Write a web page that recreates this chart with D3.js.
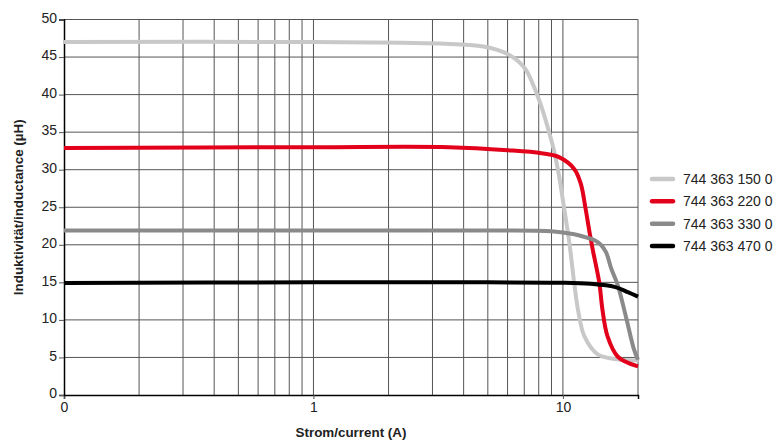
<!DOCTYPE html>
<html>
<head>
<meta charset="utf-8">
<script src="https://cdn.jsdelivr.net/npm/d3@7"></script>
<style>
  html, body { margin: 0; padding: 0; background: #fff; }
  svg { display: block; }
  text { font-family: "Liberation Sans", Arial, Helvetica, sans-serif; fill: #222; }
</style>
</head>
<body>
<svg id="chart" width="776" height="441"></svg>
<script>
// ---- data ----
const seriesNames = ["744 363 150 0", "744 363 220 0", "744 363 330 0", "744 363 470 0"];
const seriesColors = ["#c8c8c8", "#e2001a", "#8a8a8a", "#000000"];

const current150 = [0.1, 1, 3.2, 4.8, 6.0, 7.0, 7.6, 8.2, 8.7, 9.2, 9.6, 10.1, 10.6, 11.1, 11.5, 12.2, 13.8, 16.1, 20];
const induct150  = [47.0, 47.0, 46.8, 46.4, 45.4, 43.6, 41.3, 38.4, 35.6, 32.6, 29.6, 25.0, 20.4, 14.9, 11.3, 7.8, 5.4, 4.8, 4.6];

const current220 = [0.1, 1, 3.5, 6.0, 8.2, 9.6, 11.1, 11.8, 12.3, 12.8, 13.2, 14.0, 14.4, 15.1, 16.6, 20];
const induct220  = [32.9, 33.0, 33.0, 32.6, 32.2, 31.7, 30.1, 28.1, 25.0, 21.6, 19.2, 14.9, 11.4, 7.8, 5.1, 3.8];

const current330 = [0.1, 1, 5, 9, 11.1, 12.2, 13.4, 14.2, 14.9, 15.6, 16.6, 17.9, 19.3, 20];
const induct330  = [21.9, 21.9, 21.9, 21.8, 21.4, 21.05, 20.6, 20.0, 19.0, 16.9, 14.6, 10.4, 6.0, 4.7];

const current470 = [0.1, 1, 5, 10, 12.9, 16.1, 18.2, 20];
const induct470  = [14.9, 15.0, 15.0, 14.95, 14.8, 14.4, 13.7, 13.1];

const xTickValues = [0.1, 1, 10];
const xTickLabels = ["0", "1", "10"];
const xGridValues = [0.2, 0.3, 0.4, 0.5, 0.6, 0.7, 0.8, 0.9, 1, 2, 3, 4, 5, 6, 7, 8, 9, 10, 20];
const yTickValues = [0, 5, 10, 15, 20, 25, 30, 35, 40, 45, 50];

const xTitle = "Strom/current (A)";
const yTitle = "Induktivität/inductance (µH)";

// ---- chart ----
const svg = d3.select("#chart");
const x = d3.scaleLog().domain([0.1, 20]).range([64, 638]);
const y = d3.scaleLinear().domain([0, 50]).range([395, 19.5]);

const grid = svg.append("g");
grid.selectAll("line.h").data(yTickValues.filter(v => v > 0)).join("line")
  .attr("x1", x(0.1)).attr("x2", x(20))
  .attr("y1", d => y(d)).attr("y2", d => y(d))
  .attr("stroke", "#555").attr("stroke-width", 1);
grid.selectAll("line.v").data(xGridValues).join("line")
  .attr("x1", d => x(d)).attr("x2", d => x(d))
  .attr("y1", y(0)).attr("y2", y(50))
  .attr("stroke", "#555").attr("stroke-width", 1);

// axes
const xAxis = d3.axisBottom(x).tickValues(xTickValues)
  .tickFormat((d, i) => xTickLabels[i]).tickSize(4).tickPadding(3);
const gx = svg.append("g").attr("transform", `translate(0,${y(0)})`).call(xAxis);
gx.select(".domain").attr("stroke", "#000").attr("stroke-width", 1.5);
gx.selectAll(".tick line").attr("stroke", "#555");
gx.selectAll(".tick text").attr("font-size", 14).attr("fill", "#333")
  .style("font-family", '"Liberation Sans", Arial, sans-serif');

const yAxis = d3.axisLeft(y).tickValues(yTickValues).tickSize(5).tickPadding(2);
const gy = svg.append("g").attr("transform", `translate(${x(0.1)},0)`).call(yAxis);
gy.select(".domain").attr("stroke", "#000").attr("stroke-width", 1.5);
gy.selectAll(".tick line").attr("stroke", "#555");
gy.selectAll(".tick text").attr("font-size", 14).attr("fill", "#333").attr("dy", "0.2em")
  .style("font-family", '"Liberation Sans", Arial, sans-serif');

// curves
const allSeries = [
  { name: seriesNames[0], color: seriesColors[0], I: current150, L: induct150 },
  { name: seriesNames[1], color: seriesColors[1], I: current220, L: induct220 },
  { name: seriesNames[2], color: seriesColors[2], I: current330, L: induct330 },
  { name: seriesNames[3], color: seriesColors[3], I: current470, L: induct470 }
];
const line = d3.line().x(d => x(d[0])).y(d => y(d[1])).curve(d3.curveCatmullRom.alpha(0.5));
svg.append("g").selectAll("path").data(allSeries).join("path")
  .attr("d", s => line(s.I.map((v, i) => [v, s.L[i]])))
  .attr("fill", "none").attr("stroke", s => s.color)
  .attr("stroke-width", 4).attr("stroke-linejoin", "round");

// legend
const leg = svg.append("g");
const legY = d3.scaleLinear().domain([0, 3]).range([179, 246]);
allSeries.forEach((s, i) => {
  leg.append("line").attr("x1", 652).attr("x2", 673)
    .attr("y1", legY(i)).attr("y2", legY(i))
    .attr("stroke", s.color).attr("stroke-width", 4.5).attr("stroke-linecap", "round");
  leg.append("text").attr("x", 683).attr("y", legY(i)).attr("dy", "0.36em")
    .attr("font-size", 14).attr("fill", "#333").text(s.name);
});

// titles
svg.append("text").attr("x", (x(0.1) + x(20)) / 2).attr("y", 437)
  .attr("text-anchor", "middle").attr("font-size", 13.4).attr("font-weight", "bold")
  .attr("fill", "#000").text(xTitle);
svg.append("text").attr("transform", `translate(23,${(y(0) + y(50)) / 2}) rotate(-90)`)
  .attr("text-anchor", "middle").attr("font-size", 13.4).attr("font-weight", "bold")
  .attr("fill", "#000").text(yTitle);
</script>
</body>
</html>
